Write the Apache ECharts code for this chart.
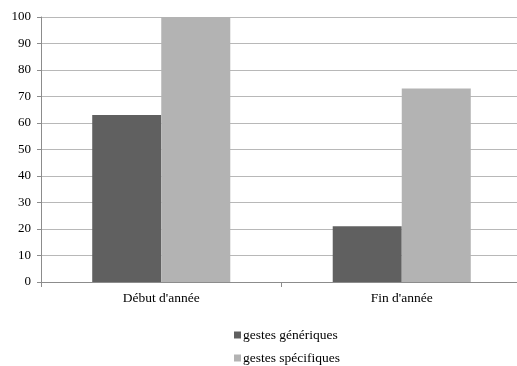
<!DOCTYPE html>
<html><head><meta charset="utf-8">
<script src="https://cdn.jsdelivr.net/npm/echarts@6/dist/echarts.min.js"></script>
<style>html,body{margin:0;padding:0;background:#fff;overflow:hidden}#c{width:522px;height:366px}</style>
</head><body><div id="c"></div>
<script>
const categories = ["Début d'année", "Fin d'année"];
const generiques = [63, 21];
const specifiques = [100, 73];
const seriesNames = ["gestes génériques", "gestes spécifiques"];

const font = "Liberation Serif";
const legendBase = {
  orient: 'horizontal', left: 229, itemWidth: 7, itemHeight: 7,
  icon: 'rect',
  textStyle: {fontFamily: font, fontSize: 13.5, color: '#000', padding: [0,0,0,-3]}
};
const chart = echarts.init(document.getElementById('c'));
chart.setOption({
  animation: false,
  textStyle: {fontFamily: font},
  grid: {left: 41, top: 17, right: 0, bottom: 84, containLabel: false},
  legend: [
    Object.assign({}, legendBase, {top: 323, data: [seriesNames[0]]}),
    Object.assign({}, legendBase, {top: 346, data: [seriesNames[1]]})
  ],
  xAxis: {
    type: 'category', data: categories,
    axisLine: {lineStyle: {color: '#8c8c8c'}},
    axisTick: {show: true, length: 5, lineStyle: {color: '#8c8c8c'}},
    axisLabel: {fontFamily: font, fontSize: 13.5, color: '#000', margin: 9}
  },
  yAxis: {
    type: 'value', min: 0, max: 100, interval: 10,
    axisLine: {show: true, lineStyle: {color: '#8c8c8c'}},
    axisTick: {show: true, length: 4, lineStyle: {color: '#8c8c8c'}},
    axisLabel: {fontFamily: font, fontSize: 13, color: '#000', margin: 10},
    splitLine: {lineStyle: {color: '#b8b8b8', width: 1}}
  },
  series: [
    {name: seriesNames[0], type: 'bar', data: generiques, itemStyle: {color: '#606060'}, barGap: '0%', barCategoryGap: '42.6%'},
    {name: seriesNames[1], type: 'bar', data: specifiques, itemStyle: {color: '#b3b3b3'}, barGap: '0%', barCategoryGap: '42.6%'}
  ]
});
</script></body></html>
